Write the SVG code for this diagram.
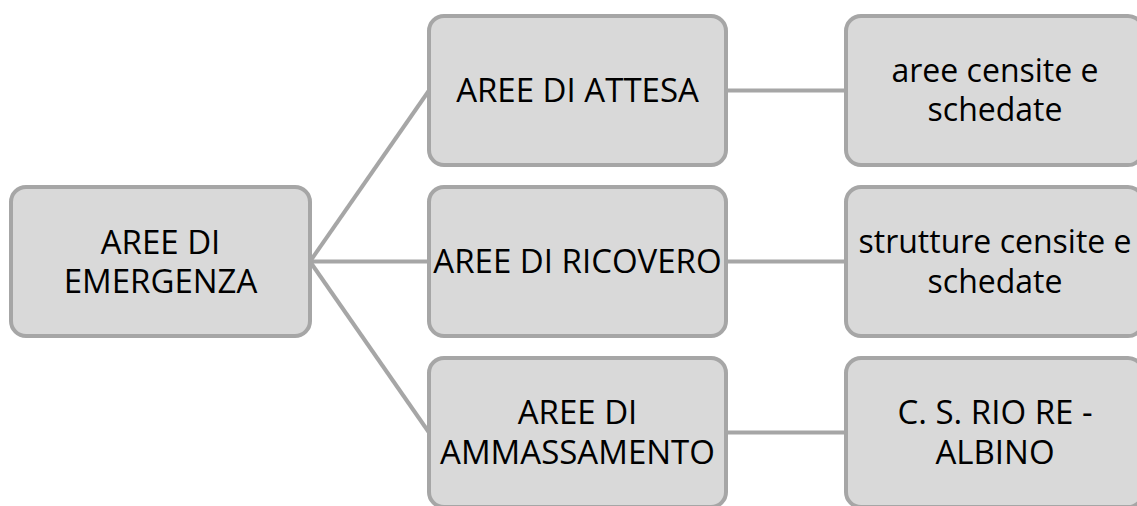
<svg xmlns="http://www.w3.org/2000/svg" width="1137" height="506" viewBox="0 0 1137 506">
<style>
.box{fill:#d9d9d9;stroke:#a6a6a6;stroke-width:4}
.conn{stroke:#a6a6a6;stroke-width:4;fill:none}
text{font-family:"Open Sans","Liberation Sans",sans-serif;font-size:32px;fill:#000;text-anchor:middle}
text.uc{font-size:33px}
</style>
<rect width="1137" height="506" fill="#fff"/>
<g id="connectors">
<line class="conn" x1="310" y1="261.5" x2="429" y2="90.5"/>
<line class="conn" x1="310" y1="261.5" x2="429" y2="261.5"/>
<line class="conn" x1="310" y1="261.5" x2="429" y2="432.5"/>
<line class="conn" x1="726" y1="90.5" x2="846" y2="90.5"/>
<line class="conn" x1="726" y1="261.5" x2="846" y2="261.5"/>
<line class="conn" x1="726" y1="432.5" x2="846" y2="432.5"/>
</g>
<g id="root">
<rect class="box" x="11" y="187" width="299" height="149" rx="15"/>
<text class="uc" x="160.5" y="254">AREE DI</text>
<text class="uc" x="160.5" y="293">EMERGENZA</text>
</g>
<g id="attesa">
<rect class="box" x="429" y="16" width="297" height="149" rx="15"/>
<text class="uc" x="577.5" y="102">AREE DI ATTESA</text>
</g>
<g id="ricovero">
<rect class="box" x="429" y="187" width="297" height="149" rx="15"/>
<text class="uc" x="577.5" y="273">AREE DI RICOVERO</text>
</g>
<g id="ammassamento">
<rect class="box" x="429" y="358" width="297" height="149" rx="15"/>
<text class="uc" x="577.5" y="424">AREE DI</text>
<text class="uc" x="577.5" y="464">AMMASSAMENTO</text>
</g>
<g id="aree-censite">
<rect class="box" x="846" y="16" width="297" height="149" rx="15"/>
<text x="995" y="82">aree censite e</text>
<text x="995" y="121">schedate</text>
</g>
<g id="strutture-censite">
<rect class="box" x="846" y="187" width="297" height="149" rx="15"/>
<text x="995" y="253">strutture censite e</text>
<text x="995" y="293">schedate</text>
</g>
<g id="rio-re">
<rect class="box" x="846" y="358" width="297" height="149" rx="15"/>
<text class="uc" x="995" y="424">C. S. RIO RE -</text>
<text class="uc" x="995" y="464">ALBINO</text>
</g>
</svg>
